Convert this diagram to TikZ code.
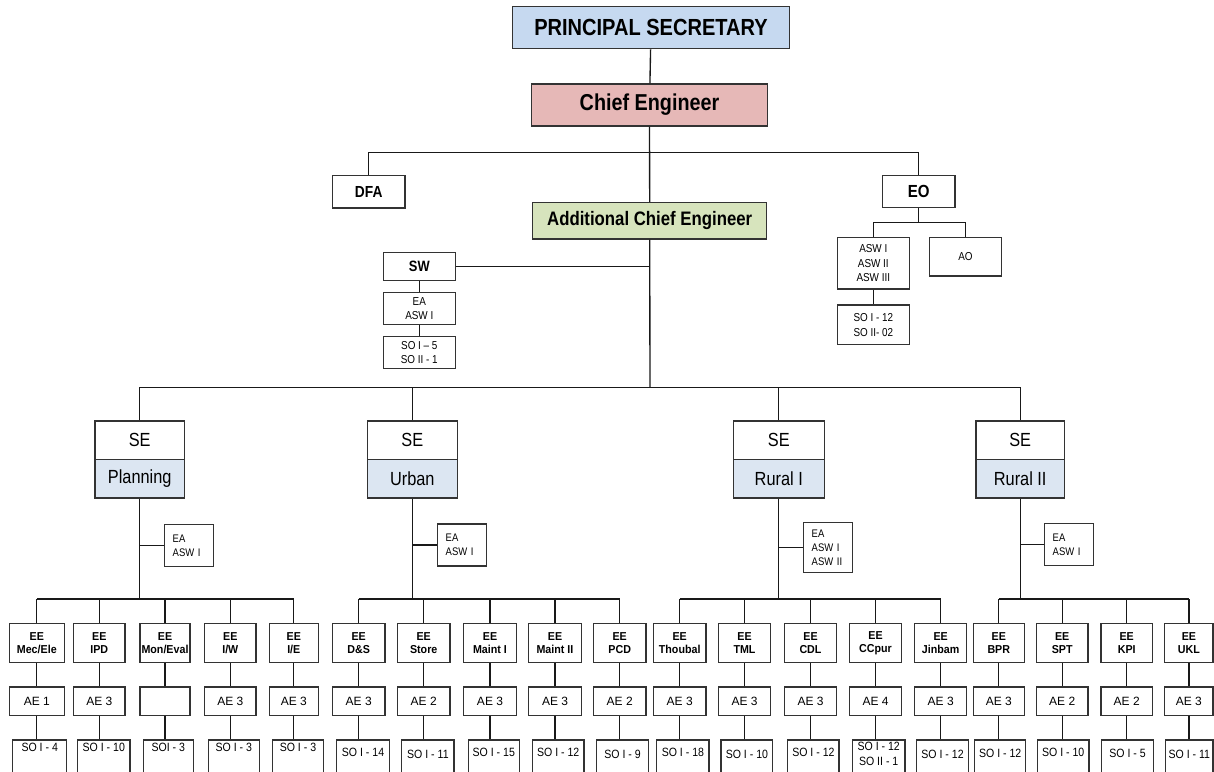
\documentclass[tikz,border=0pt]{standalone}
\usepackage{fontspec}
\setmainfont{Liberation Sans}[FakeStretch=0.86]
\newfontfamily\eefont{Liberation Sans}[FakeStretch=0.93]
\newfontfamily\aefont{Liberation Sans}
\newfontfamily\sofont{Liberation Sans}[FakeStretch=0.88]
\definecolor{psblue}{RGB}{198,217,240}
\definecolor{cepink}{RGB}{230,184,183}
\definecolor{acegreen}{RGB}{215,228,189}
\definecolor{seblue}{RGB}{220,230,242}

\tikzset{
  box/.style={draw=black!80, line width=1.35pt, inner sep=0pt, align=center, fill=white},
  link/.style={draw=black!90, line width=1.35pt},
  small/.style={font=\fontsize{11.5}{14}\selectfont},
  eabox/.style={box, align=left, inner xsep=8pt, text width=#1-16pt,
    font=\fontsize{11}{14}\selectfont},
  eebox/.style={box, minimum height=39.4pt, font=\eefont\bfseries\fontsize{11.5}{13.5}\selectfont},
  aebox/.style={box, minimum height=28.5pt, font=\aefont\fontsize{12}{13}\selectfont},
  sobox/.style={box, minimum height=60pt, anchor=north},
  solabel/.style={anchor=center, align=center, inner sep=0pt,
    font=\sofont\fontsize{12}{15}\selectfont},
  setop/.style={box, minimum height=38.3pt, font=\fontsize{19}{22}\selectfont},
  sebot/.style={box, fill=seblue, minimum height=38.7pt, font=\fontsize{19}{22}\selectfont},
}

\begin{document}
\begin{tikzpicture}[x=1pt, y=-1pt]
\useasboundingbox (0,0) rectangle (1214,771);
\clip (0,0) rectangle (1214,771);

% top of the hierarchy
\node[box, fill=psblue, minimum width=276.6pt, minimum height=42pt,
  font=\bfseries\fontsize{23.3}{28}\selectfont] (ps) at (651,27.7) {PRINCIPAL SECRETARY};
\node[box, fill=cepink, minimum width=235.6pt, minimum height=42pt,
  font=\bfseries\fontsize{23}{28}\selectfont] (ce) at (649.5,105) {Chief Engineer};
\node[box, minimum width=72.7pt, minimum height=32.7pt,
  font=\bfseries\fontsize{16}{19}\selectfont] (dfa) at (368.7,191.7) {DFA};
\node[box, minimum width=72.7pt, minimum height=32.4pt,
  font=\bfseries\fontsize{17.5}{20}\selectfont] (eo) at (918.7,191.5) {EO};
\node[box, fill=acegreen, minimum width=234pt, minimum height=36.3pt,
  font=\bfseries\fontsize{19.5}{23}\selectfont] (ace) at (649.7,220.8) {Additional Chief Engineer};

\coordinate (cebus) at (650,152.7);
\coordinate (eobus) at (918.7,222.7);
\coordinate (mainbus) at (650,387.3);
\coordinate (subbus) at (0,599);

\draw[link] (ps) -- (ce);
\draw[link] (ce.south) -- (ace.north);
\draw[link] (dfa.north) -- (dfa.north |- cebus) -- (eo.north |- cebus) -- (eo.north);

% EO branch
\node[box, minimum width=72pt, minimum height=51.3pt,
  font=\fontsize{11.5}{14.5}\selectfont] (asw) at (873.3,263.3) {ASW I\\ASW II\\ASW III};
\node[box, small, minimum width=72.4pt, minimum height=38.7pt] (ao) at (965.5,256.7) {AO};
\node[box, minimum width=72pt, minimum height=39.3pt,
  font=\fontsize{11.5}{15.3}\selectfont] (eoso) at (873.3,324.7) {SO I - 12\\SO II- 02};
\draw[link] (eo.south) -- (eobus);
\draw[link] (asw.north) -- (asw.north |- eobus) -- (ao.north |- eobus) -- (ao.north);
\draw[link] (asw.south) -- (eoso.north);

% SW branch
\node[box, minimum width=72pt, minimum height=27.6pt,
  font=\bfseries\fontsize{15}{18}\selectfont] (sw) at (419.3,266.5) {SW};
\node[box, minimum width=72pt, minimum height=32pt,
  font=\fontsize{11.5}{13.7}\selectfont] (swea) at (419.3,308.7) {EA\\ASW I};
\node[box, minimum width=72pt, minimum height=31.6pt,
  font=\fontsize{11.5}{13.3}\selectfont] (swso) at (419.3,352.5) {SO I -- 5\\SO II - 1};
\draw[link] (sw) -- (swea);
\draw[link] (swea) -- (swso);
\draw[link] (sw.east) -- (sw.east -| ace.south);
\draw[link] (ace.south) -- (mainbus);

% superintending engineers
\node[setop, minimum width=89.3pt] (se1) at (139.7,440.2) {SE};
\node[sebot, minimum width=89.3pt] (sb1) at (139.7,478.7) {Planning};
\node[setop, minimum width=90pt] (se2) at (412.3,440.2) {SE};
\node[sebot, minimum width=90pt] (sb2) at (412.3,478.7) {Urban};
\node[setop, minimum width=91pt] (se3) at (778.8,440.2) {SE};
\node[sebot, minimum width=91pt] (sb3) at (778.8,478.7) {Rural I};
\node[setop, minimum width=88.3pt] (se4) at (1020.2,440.2) {SE};
\node[sebot, minimum width=88.3pt] (sb4) at (1020.2,478.7) {Rural II};

\draw[link] (se1.north) -- (se1.north |- mainbus) -- (se4.north |- mainbus) -- (se4.north);
\draw[link] (se2.north) -- (se2.north |- mainbus);
\draw[link] (se3.north) -- (se3.north |- mainbus);

% establishment assistants beside each SE
\node[eabox=48.6pt, minimum height=42.4pt] (ea1) at (189,545.5) {EA\\ASW I};
\node[eabox=48.6pt, minimum height=42pt] (ea2) at (462,545) {EA\\ASW I};
\node[eabox=48.6pt, minimum height=50pt] (ea3) at (828,547.3) {EA\\ASW I\\ASW II};
\node[eabox=49pt, minimum height=41.6pt] (ea4) at (1069.2,544.5) {EA\\ASW I};
\foreach \i in {1,...,4}{
  \draw[link] (sb\i.south) -- (sb\i.south |- subbus);
  \draw[link] (ea\i.west) -- (ea\i.west -| sb\i.south);
}

% executive engineers, assistant engineers and section officers
\foreach \n/\cx/\w/\ee/\ae/\socx/\sow/\sod/\so in {
  1/36.8/55/{Mec/Ele}/AE 1/39.7/54/8/SO I - 4,
  2/99.3/51.3/IPD/AE 3/103.8/52.3/8/SO I - 10,
  3/165/50/{Mon/Eval}/{}/168.3/50/8/SOI - 3,
  4/230.3/51.3/{I/W}/AE 3/233.8/51/8/SO I - 3,
  5/293.8/49/{I/E}/AE 3/298/50.6/8/SO I - 3,
  6/358.7/52.7/D\&S/AE 3/363/52.6/13/SO I - 14,
  7/423.7/52.7/Store/AE 2/427.9/52.3/15/SO I - 11,
  8/490/53.4/Maint I/AE 3/493.8/51/13/SO I - 15,
  9/555/53.4/Maint II/AE 3/558.2/51.7/13/SO I - 12,
  10/619.7/52.7/PCD/AE 2/622.5/51.6/15/SO I - 9,
  11/679.7/52.7/Thoubal/AE 3/682.9/52.3/13/SO I - 18,
  12/744.5/52.4/TML/AE 3/746.9/51.7/15/SO I - 10,
  13/810.5/52.4/CDL/AE 3/813.4/51.3/13/SO I - 12,
  14/875.5/52.4/CCpur/AE 4/878.7/52.7/15/{SO I - 12\\SO II - 1},
  15/940.7/52/Jinbam/AE 3/942.5/51.6/15/SO I - 12,
  16/998.8/51/BPR/AE 3/1000.2/51/14/SO I - 12,
  17/1062.2/51.7/SPT/AE 2/1063.2/51.7/13/SO I - 10,
  18/1126.7/51.3/KPI/AE 2/1127.5/51.6/14/SO I - 5,
  19/1188.9/48.3/UKL/AE 3/1189.3/47.5/15/SO I - 11}{
  \node[eebox, minimum width=\w pt] (ee\n) at (\cx,643) {EE\\\ee};
  \node[aebox, minimum width=\w pt] (ae\n) at (\cx,701.3) {\ae};
  \node[sobox, minimum width=\sow pt,
    label={[solabel, yshift=-\sod pt]north:\so}] (so\n) at (\socx,739.3) {};
  \draw[link] (ee\n) -- (ae\n);
  \draw[link] (ae\n.south) -- (ae\n.south |- so\n.north);
  \draw[link] (ee\n.north) -- (ee\n.north |- subbus);
}

% sub buses joining each SE to its divisions
\draw[link] (ee1.north |- subbus) -- (ee5.north |- subbus);
\draw[link] (ee6.north |- subbus) -- (ee10.north |- subbus);
\draw[link] (ee11.north |- subbus) -- (ee15.north |- subbus);
\draw[link] (ee16.north |- subbus) -- (ee19.north |- subbus);
\end{tikzpicture}
\end{document}
